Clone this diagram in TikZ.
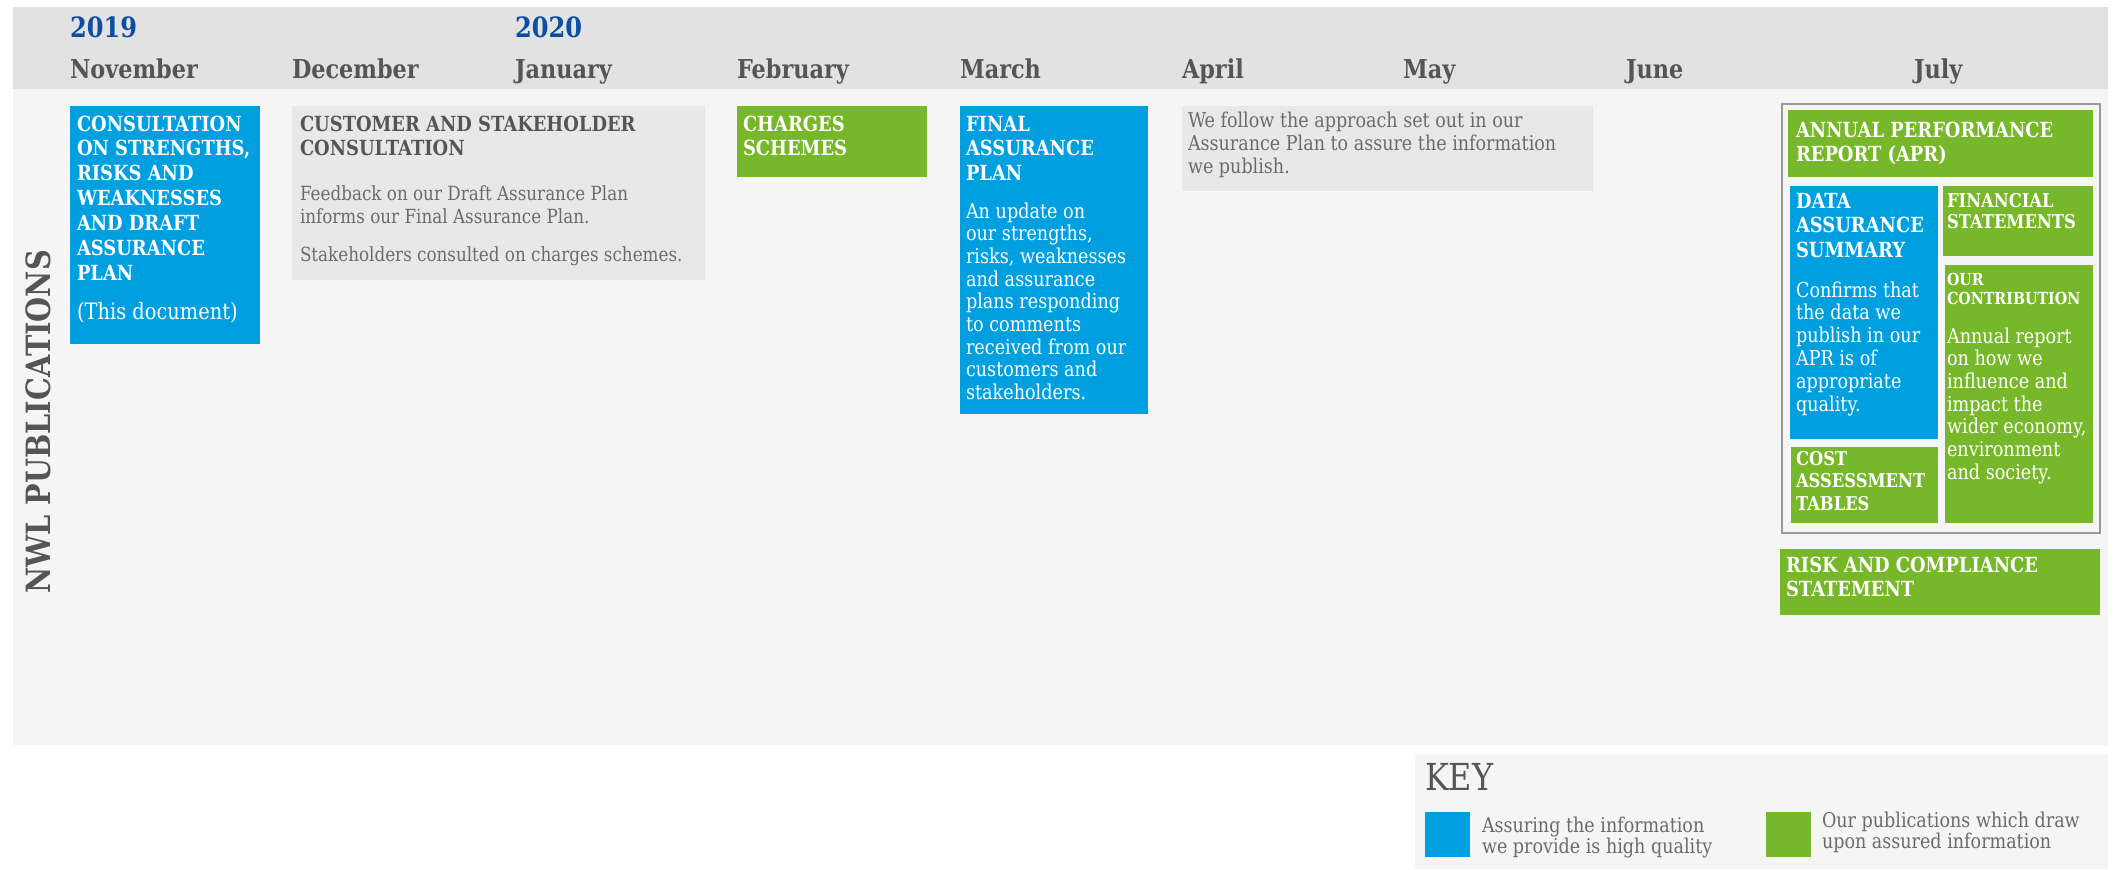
\documentclass[tikz,border=0pt]{standalone}
\usepackage{fontspec}
\setmainfont{DejaVu Serif}[FakeStretch=0.86]
\definecolor{nblue}{HTML}{009FE0}
\definecolor{ngreen}{HTML}{77B72A}
\definecolor{hdr}{HTML}{E2E2E2}
\definecolor{pnl}{HTML}{F5F5F5}
\definecolor{gbox}{HTML}{E8E8E8}
\definecolor{dgray}{HTML}{555555}
\definecolor{bgray}{HTML}{6B6B6B}
\definecolor{yblue}{HTML}{0B4EA2}
\definecolor{oline}{HTML}{9A9A9A}
\newcommand{\ml}[1]{\begin{tabular}[t]{@{}l@{}}#1\end{tabular}}
\begin{document}
\begin{tikzpicture}[x=0.5pt,y=-0.5pt,
  t/.style={anchor=base west, inner sep=0pt, outer sep=0pt},
  year/.style={t, text=yblue, font=\bfseries\fontsize{14}{16}\selectfont},
  month/.style={t, text=dgray, font=\bfseries\fontsize{13}{15}\selectfont},
  hdw/.style={t, text=white, font=\bfseries\fontsize{10.4}{12.45}\selectfont},
  hdg/.style={t, text=dgray, font=\bfseries\fontsize{10.4}{12.45}\selectfont},
  bdw/.style={t, text=white, font=\fontsize{10.25}{11.35}\selectfont},
  bdg/.style={t, text=bgray, font=\fontsize{9.75}{11.5}\selectfont},
  keyt/.style={t, text=bgray, font=\fontsize{10.2}{10.6}\selectfont}]
\useasboundingbox (0,0) rectangle (2114,869);
\fill[white] (0,0) rectangle (2114,869);
% panels
\fill[hdr] (13,7) rectangle (2108,89);
\fill[pnl] (13,89) rectangle (2108,745);
\fill[pnl] (1415,754) rectangle (2108,869);
% header
\node[year] (y19) at (70,37) {2019};
\node[year] (y20) at (515,37) {2020};
\node[month] (nov) at (70,78) {November};
\node[month] (dec) at (292,78) {December};
\node[month] (jan) at (515,78) {January};
\node[month] (feb) at (737,78) {February};
\node[month] (mar) at (960,78) {March};
\node[month] (apr) at (1182,78) {April};
\node[month] (may) at (1403,78) {May};
\node[month] (jun) at (1626,78) {June};
\node[month] (jul) at (1914,78) {July};
% side label
\node[rotate=90, anchor=base, inner sep=0pt, text=dgray,
  font=\bfseries\fontsize{16.7}{20}\selectfont] (nwl) at (50,422) {NWL PUBLICATIONS};
% consultation
\fill[nblue] (70,106) rectangle (260,344);
\node[hdw] (consT) at (77,131) {\ml{CONSULTATION\\ON STRENGTHS,\\RISKS AND\\WEAKNESSES\\AND DRAFT\\ASSURANCE\\PLAN}};
\node[bdw, font=\fontsize{11.3}{13}\selectfont] (consB) at (77,319) {(This document)};
% customer
\fill[gbox] (292,106) rectangle (705,280);
\node[hdg] (custT) at (300,131) {\ml{CUSTOMER AND STAKEHOLDER\\CONSULTATION}};
\node[bdg] (custB) at (300,200) {\ml{Feedback on our Draft Assurance Plan\\informs our Final Assurance Plan.}};
\node[bdg] (custC) at (300,261) {Stakeholders consulted on charges schemes.};
% charges
\fill[ngreen] (737,106) rectangle (927,177);
\node[hdw] (chT) at (743,131) {\ml{CHARGES\\SCHEMES}};
% final
\fill[nblue] (960,106) rectangle (1148,414);
\node[hdw] (finT) at (966,131) {\ml{FINAL\\ASSURANCE\\PLAN}};
\node[bdw] (finB) at (966,218) {\ml{An update on\\our strengths,\\risks, weaknesses\\and assurance\\plans responding\\to comments\\received from our\\customers and\\stakeholders.}};
% april
\fill[gbox] (1182,106) rectangle (1593,191);
\node[bdg, font=\fontsize{10.2}{11.5}\selectfont] (aprT) at (1188,127) {\ml{We follow the approach set out in our\\Assurance Plan to assure the information\\we publish.}};
% July group
\draw[oline, line width=1pt] (1782,104) rectangle (2100,533);
\fill[ngreen] (1788,110) rectangle (2093,177);
\node[hdw] (aprR) at (1796,137) {\ml{ANNUAL PERFORMANCE\\REPORT (APR)}};
\fill[nblue] (1790,186) rectangle (1938,439);
\node[hdw] (dasT) at (1796,208) {\ml{DATA\\ASSURANCE\\SUMMARY}};
\node[bdw, font=\fontsize{10.25}{11.45}\selectfont] (dasB) at (1796,297) {\ml{Confirms that\\the data we\\publish in our\\APR is of\\appropriate\\quality.}};
\fill[ngreen] (1943,186) rectangle (2093,256);
\node[hdw, font=\bfseries\fontsize{9.5}{10.7}\selectfont] (finS) at (1947,207) {\ml{FINANCIAL\\STATEMENTS}};
\fill[ngreen] (1945,265) rectangle (2093,523);
\node[hdw, font=\bfseries\fontsize{8.3}{9.5}\selectfont] (ourT) at (1947,285) {\ml{OUR\\CONTRIBUTION}};
\node[bdw] (ourB) at (1947,343) {\ml{Annual report\\on how we\\influence and\\impact the\\wider economy,\\environment\\and society.}};
\fill[ngreen] (1791,447) rectangle (1938,523);
\node[hdw, font=\bfseries\fontsize{9.5}{11.35}\selectfont] (costT) at (1796,465) {\ml{COST\\ASSESSMENT\\TABLES}};
\fill[ngreen] (1780,549) rectangle (2100,615);
\node[hdw] (riskT) at (1786,572) {\ml{RISK AND COMPLIANCE\\STATEMENT}};
% key
\node[t, text=dgray, font=\fontsize{18.6}{20}\selectfont] (key) at (1425,790) {KEY};
\fill[nblue] (1425,812) rectangle (1470,857);
\node[keyt] (k1) at (1482,832) {\ml{Assuring the information\\we provide is high quality}};
\fill[ngreen] (1766,812) rectangle (1811,857);
\node[keyt] (k2) at (1822,827) {\ml{Our publications which draw\\upon assured information}};
\end{tikzpicture}
\end{document}
